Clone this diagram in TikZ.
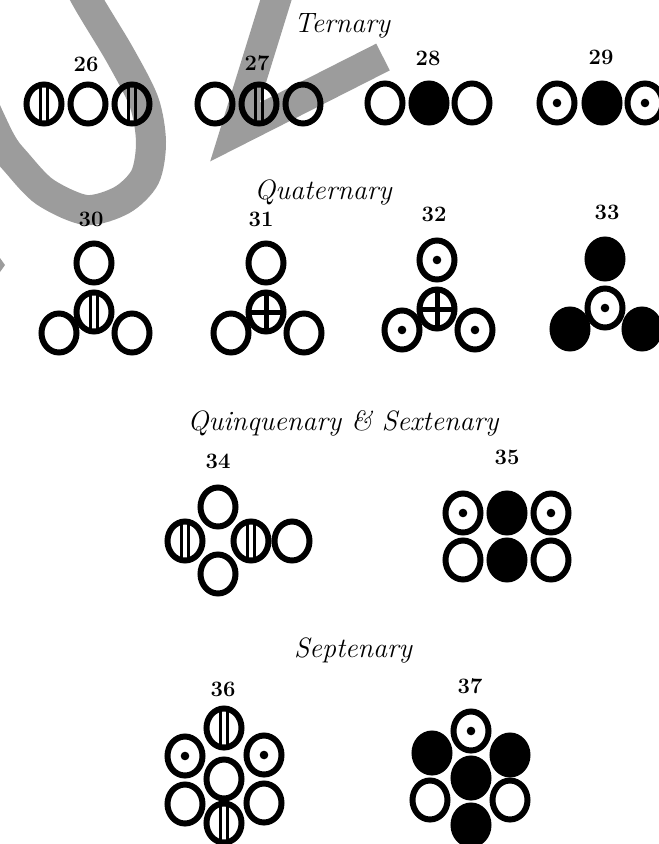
\documentclass[tikz,border=0pt]{standalone}
\usepackage{tikz}
\usetikzlibrary{positioning,shapes.geometric}
\definecolor{cMark}{HTML}{9C9C9C}
\tikzset{
  atom/.style={ellipse,draw,line width=6pt,minimum width=35pt,minimum height=39pt,
               inner sep=0pt},
  oxy/.style={atom},
  azo/.style={atom,path picture={
      \draw[line width=2.5pt]
        ([xshift=-3.5pt]path picture bounding box.north)--([xshift=-3.5pt]path picture bounding box.south)
        ([xshift=3.5pt]path picture bounding box.north)--([xshift=3.5pt]path picture bounding box.south);}},
  hyd/.style={atom,path picture={\fill (path picture bounding box.center) circle (4.3pt);}},
  sul/.style={atom,path picture={
      \draw[line width=5pt]
        (path picture bounding box.north)--(path picture bounding box.south)
        (path picture bounding box.west)--(path picture bounding box.east);}},
  car/.style={atom,fill=black},
  num/.style={font=\fontsize{22}{26}\selectfont\bfseries},
  head/.style={font=\fontsize{28}{32}\selectfont\itshape},
  wmark/.style={draw=cMark,line width=30pt},
}

\begin{document}
\begin{tikzpicture}[x=1pt,y=1pt]
  \useasboundingbox (0,-844) rectangle (659,0);
  \clip (0,-844) rectangle (659,0);
  % grey overprint
  \draw[wmark] plot[smooth cycle] coordinates {(151,-142) (145,-177) (122,-200) (86,-210)
      (45,-192) (17,-163) (0,-140) (-30,-75) (-63,0) (-75,60) (-45,130) (0,150) (35,110)
      (62,48) (87,0) (120,-55) (144,-102)};
  \draw[wmark,line join=miter] (279,10) -- (235,-132) -- (383,-57);
  \fill[cMark] (0,-258) -- (5,-265) -- (0,-272) -- cycle;

  \node[head] (hTer) at (342,-26) {Ternary};
  \node[head] (hQua) at (323,-192) {Quaternary};
  \node[head] (hQui) at (343,-423) {Quinquenary \& Sextenary};
  \node[head] (hSep) at (353,-650) {Septenary};

  % ternary
  \node[oxy] (n26b) at (88,-104) {};
  \node[azo,left=3pt of n26b] (n26a) {};
  \node[azo,right=3pt of n26b] (n26c) {};
  \node[num] (l26) at (86,-64) {26};
  \node[azo] (n27b) at (259,-104) {};
  \node[oxy,left=3pt of n27b] (n27a) {};
  \node[oxy,right=3pt of n27b] (n27c) {};
  \node[num] (l27) at (257,-63) {27};
  \node[car] (n28b) at (429,-103) {};
  \node[oxy,left=3pt of n28b] (n28a) {};
  \node[oxy,right=2pt of n28b] (n28c) {};
  \node[num] (l28) at (428,-58) {28};
  \node[car] (n29b) at (602,-103) {};
  \node[hyd,left=4pt of n29b] (n29a) {};
  \node[hyd,right=2pt of n29b] (n29c) {};
  \node[num] (l29) at (601,-57) {29};

  % quaternary
  \node[azo] (n30c) at (94,-312) {};
  \node[oxy,above=4pt of n30c] (n30t) {};
  \node[oxy] (n30l) at ([shift={(-35,-21)}]n30c) {};
  \node[oxy] (n30r) at ([shift={(38,-21)}]n30c) {};
  \node[num] (l30) at (91,-219) {30};
  \node[sul] (n31c) at (266,-312) {};
  \node[oxy,above=4pt of n31c] (n31t) {};
  \node[oxy] (n31l) at ([shift={(-35,-21)}]n31c) {};
  \node[oxy] (n31r) at ([shift={(38,-21)}]n31c) {};
  \node[num] (l31) at (261,-219) {31};
  \node[sul] (n32c) at (437,-309) {};
  \node[hyd,above=4pt of n32c] (n32t) {};
  \node[hyd] (n32l) at ([shift={(-35,-21)}]n32c) {};
  \node[hyd] (n32r) at ([shift={(38,-21)}]n32c) {};
  \node[num] (l32) at (434,-214) {32};
  \node[car] (n33t) at (605,-259) {};
  \node[car] (n33l) at (570,-329) {};
  \node[car] (n33r) at (642,-329) {};
  \node[hyd,below=4pt of n33t] (n33c) {};
  \node[num] (l33) at (607,-212) {33};

  % quinquenary & sextenary
  \coordinate (c34) at (218,-541);
  \node[oxy,above=11.5pt of c34] (n34t) {};
  \node[oxy,below=10.5pt of c34] (n34b) {};
  \node[azo,left=12.5pt of c34] (n34l) {};
  \node[azo,right=12.5pt of c34] (n34r) {};
  \node[oxy,right=0pt of n34r] (n34o) {};
  \node[num] (l34) at (218,-461) {34};
  \node[car] (n35t) at (507,-513) {};
  \node[car,below=2pt of n35t] (n35b) {};
  \node[hyd,left=3pt of n35t] (n35tl) {};
  \node[hyd,right=3pt of n35t] (n35tr) {};
  \node[oxy,left=3pt of n35b] (n35bl) {};
  \node[oxy,right=3pt of n35b] (n35br) {};
  \node[num] (l35) at (507,-457) {35};

  % septenary
  \node[oxy] (n36c) at (224,-779) {};
  \node[azo,above=6pt of n36c] (n36t) {};
  \node[azo,below=-1pt of n36c] (n36b) {};
  \node[hyd] (n36ul) at ([shift={(-39,23)}]n36c) {};
  \node[hyd] (n36ur) at ([shift={(40,24)}]n36c) {};
  \node[oxy] (n36ll) at ([shift={(-39,-25)}]n36c) {};
  \node[oxy] (n36lr) at ([shift={(40,-24)}]n36c) {};
  \node[num] (l36) at (223,-689) {36};
  \node[car] (n37c) at (471,-778) {};
  \node[car,below=2pt of n37c] (n37b) {};
  \node[car] (n37ul) at ([shift={(-39,25)}]n37c) {};
  \node[car] (n37ur) at ([shift={(39,23)}]n37c) {};
  \node[oxy] (n37ll) at ([shift={(-41,-22)}]n37c) {};
  \node[oxy] (n37lr) at ([shift={(39,-22)}]n37c) {};
  \node[hyd,above=2pt of n37c] (n37t) {};
  \node[num] (l37) at (470,-686) {37};
\end{tikzpicture}
\end{document}
